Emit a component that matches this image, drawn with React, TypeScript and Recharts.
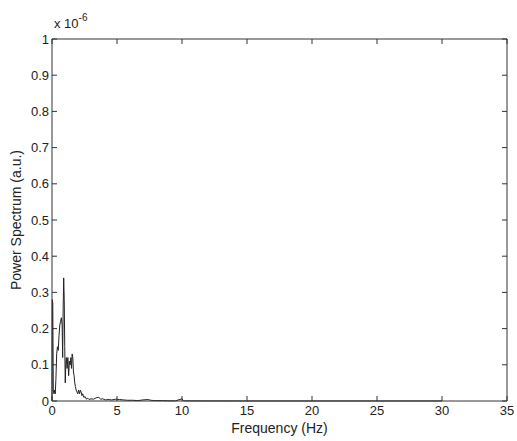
import { LineChart, Line, XAxis, YAxis } from "recharts"

// frequency in Hz, power in units of 1e-6 (a.u.)
const freqHz = [
  0.0, 0.02, 0.06, 0.1, 0.15, 0.2, 0.25, 0.3, 0.36, 0.42, 0.48, 0.54, 0.6, 0.66, 0.72, 0.78, 0.82, 0.86, 0.9,
  0.94, 0.98, 1.02, 1.06, 1.1, 1.16, 1.22, 1.28, 1.34, 1.4, 1.45, 1.5, 1.55, 1.6, 1.65, 1.7, 1.75, 1.8, 1.86, 1.92,
  1.98, 2.05, 2.12, 2.18, 2.24, 2.3, 2.36, 2.45, 2.55, 2.65, 2.75, 2.85, 3.0, 3.2, 3.4, 3.6, 3.75, 3.9, 4.1, 4.3,
  4.6, 4.9, 5.2, 5.5, 5.8, 6.2, 6.6, 7.0, 7.4, 7.6, 7.9, 8.5, 9.0, 9.5, 10.0, 10.1, 10.2, 11.0, 12, 15, 20, 25, 30, 35,
]
const power = [
  0.0, 0.28, 0.27, 0.03, 0.02, 0.03, 0.02, 0.06, 0.13, 0.15, 0.14, 0.18, 0.21, 0.22, 0.23, 0.21, 0.12, 0.26, 0.34,
  0.28, 0.15, 0.05, 0.1, 0.12, 0.09, 0.12, 0.07, 0.11, 0.1, 0.12, 0.09, 0.13, 0.12, 0.08, 0.07, 0.05, 0.04, 0.03,
  0.025, 0.02, 0.03, 0.02, 0.03, 0.025, 0.015, 0.02, 0.01, 0.012, 0.005, 0.008, 0.004, 0.006, 0.005, 0.009, 0.01, 0.005, 0.006, 0.003,
  0.004, 0.003, 0.005, 0.004, 0.003, 0.002, 0.002, 0.001, 0.003, 0.004, 0.002, 0.001, 0.001, 0.0005, 0.0005, 0.006, 0.001, 0.0005, 0.0003, 0.0002, 0.0001, 0.0001, 0.0001, 0.0001,
]
const xTicks = [0, 5, 10, 15, 20, 25, 30, 35]
const yTicks = [0, 0.1, 0.2, 0.3, 0.4, 0.5, 0.6, 0.7, 0.8, 0.9, 1]

const data = freqHz.map((f, i) => ({ f, p: power[i] }))

const font = "Liberation Sans, Arial, sans-serif"
const axisColor = "#333"
const tickStyle = { fontSize: 13, fill: "#222", fontFamily: font }
const labelStyle = { fontSize: 14, fill: "#222", fontFamily: font }
const blank = () => ""

export default function App() {
  return (
    <div style={{ position: "absolute", left: 0, top: 0, width: 517, height: 441, background: "#fff" }}>
      <LineChart width={517} height={441} data={data} margin={{ top: 38, right: 9, bottom: 0, left: 0 }}>
        <XAxis
          xAxisId="b"
          dataKey="f"
          type="number"
          domain={[0, 35]}
          ticks={xTicks}
          height={40}
          tickSize={-5}
          tickMargin={10}
          stroke={axisColor}
          tick={tickStyle}
          label={{ value: "Frequency (Hz)", position: "insideBottom", offset: 8, style: labelStyle }}
        />
        <XAxis
          xAxisId="t"
          dataKey="f"
          type="number"
          orientation="top"
          domain={[0, 35]}
          ticks={xTicks}
          height={1}
          tickSize={-5}
          stroke={axisColor}
          tickFormatter={blank}
        />
        <YAxis
          yAxisId="l"
          type="number"
          domain={[0, 1]}
          ticks={yTicks}
          width={52}
          tickSize={-5}
          tickMargin={8}
          stroke={axisColor}
          tick={tickStyle}
          label={{ value: "Power Spectrum (a.u.)", angle: -90, position: "insideLeft", offset: 16, style: { ...labelStyle, textAnchor: "middle" } }}
        />
        <YAxis
          yAxisId="r"
          type="number"
          orientation="right"
          domain={[0, 1]}
          ticks={yTicks}
          width={1}
          tickSize={-5}
          stroke={axisColor}
          tickFormatter={blank}
        />
        <Line
          xAxisId="t"
          yAxisId="r"
          dataKey="p"
          stroke="none"
          dot={false}
          legendType="none"
          isAnimationActive={false}
        />
        <Line
          xAxisId="b"
          yAxisId="l"
          dataKey="p"
          type="linear"
          stroke="#222"
          strokeWidth={1}
          dot={false}
          isAnimationActive={false}
        />
      </LineChart>
      <div style={{ position: "absolute", left: 54, top: 14, fontFamily: font, fontSize: 13, color: "#222" }}>
        x 10<sup style={{ fontSize: 10, position: "relative", top: -2 }}>-6</sup>
      </div>
    </div>
  )
}
